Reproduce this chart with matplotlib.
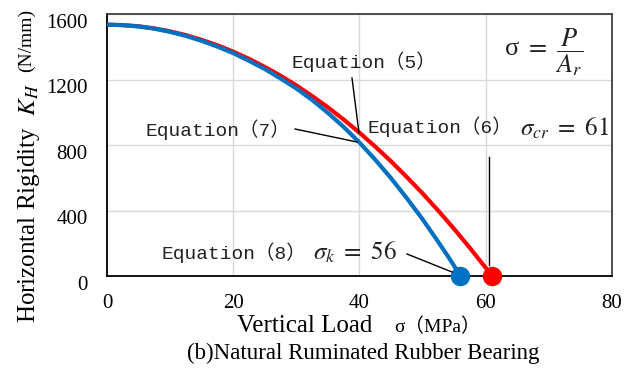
import matplotlib
matplotlib.use("Agg")
import matplotlib.pyplot as plt
from matplotlib.transforms import ScaledTranslation

# ---- data ----
sigma_eq7 = [0, 2.5, 5, 7.5, 10, 12.5, 15, 17.5, 20, 22.5, 25, 27.5, 30, 32.5, 35, 37.5,
             40, 42.5, 45, 47.5, 50, 52.5, 54, 55, 56]
kh_eq7 = [1535, 1532, 1524, 1510, 1491, 1466, 1436, 1401, 1361, 1314, 1264, 1206, 1145,
          1075, 996, 910, 815, 710, 597, 475, 346, 207, 121, 61, 0]
sigma_eq5 = [0, 2.5, 5, 7.5, 10, 12.5, 15, 17.5, 20, 22.5, 25, 27.5, 30, 32.5, 35, 37.5,
             40, 42.5, 45, 47.5, 50, 52.5, 55, 57.5, 59, 60, 61]
kh_eq5 = [1535, 1532, 1525, 1512, 1494, 1471, 1442, 1409, 1370, 1326, 1277, 1223, 1164,
          1099, 1030, 955, 875, 790, 700, 604, 504, 398, 287, 171, 98, 50, 0]
sigma_k = 56
sigma_cr = 61
x_ticks = [0, 20, 40, 60, 80]
y_ticks = [0, 400, 800, 1200, 1600]

plt.rcParams['mathtext.fontset'] = 'stix'
SERIF = ['Liberation Serif', 'Noto Sans CJK JP', 'DejaVu Serif']
MONO = ['Liberation Mono', 'Noto Sans CJK JP', 'DejaVu Sans']

W, H = 638, 368
fig = plt.figure(figsize=(W / 100, H / 100), dpi=100)
L, R, T, B = 107, 612, 14, 276
ax = fig.add_axes([L / W, 1 - B / H, (R - L) / W, (B - T) / H])

ax.plot(sigma_eq5, kh_eq5, color='#FF0000', lw=3.0, solid_capstyle='round', zorder=3)
ax.plot(sigma_eq7, kh_eq7, color='#0070C0', lw=3.0, solid_capstyle='round', zorder=4)
ax.plot([sigma_cr], [0], 'o', color='#FF0000', ms=13, zorder=5, clip_on=False)
ax.plot([sigma_k], [0], 'o', color='#0070C0', ms=13, zorder=6, clip_on=False)

ax.set_xlim(0, 80)
ax.set_ylim(0, 1600)
ax.set_xticks(x_ticks)
ax.set_yticks(y_ticks)
ax.grid(True, color='#D9D9D9', lw=1.0)
ax.set_axisbelow(True)
ax.tick_params(length=0, labelsize=15)
ax.tick_params(axis='x', pad=13)
ax.tick_params(axis='y', pad=14)
for lab in ax.get_xticklabels() + ax.get_yticklabels():
    lab.set_family(SERIF)
for lab in ax.get_yticklabels():
    lab.set_transform(lab.get_transform() + ScaledTranslation(0, -5 / 72, fig.dpi_scale_trans))
for s in ['left', 'bottom']:
    ax.spines[s].set_color('black')
    ax.spines[s].set_linewidth(1.3)
for s in ['top', 'right']:
    ax.spines[s].set_color('#404040')
    ax.spines[s].set_linewidth(1.3)


def P(px, py):
    return ((px - L) / (R - L), (B - py) / (B - T))


def txt(px, py, s, size=14, ha='left', va='center', fam=MONO):
    x, y = P(px, py)
    ax.text(x, y, s, transform=ax.transAxes, ha=ha, va=va, fontsize=size,
            family=fam, color='#222222', zorder=7)


def line(p0, p1):
    x0, y0 = P(*p0)
    x1, y1 = P(*p1)
    ax.plot([x0, x1], [y0, y1], transform=ax.transAxes, color='black', lw=1.0, zorder=7)


txt(292, 62, 'Equation\uff085\uff09')
line((352, 78), (359, 133))
txt(290, 130, 'Equation\uff087\uff09', ha='right')
line((295, 129), (357, 142))
txt(368, 127, 'Equation\uff086\uff09')
txt(520, 128, r'$\sigma_{cr}\ =\ 61$', size=18, fam=SERIF)
line((489, 157), (489, 265))
txt(162, 253, 'Equation\uff088\uff09')
txt(313, 252, r'$\sigma_{k}\ =\ 56$', size=18, fam=SERIF)
line((407, 254), (452, 272))
txt(504, 52, r'σ $=\ \dfrac{P}{A_r}$', size=19, fam=SERIF)

# axis labels
fig.text(29 / W, 1 - 323 / H, r'Horizontal Rigidity  $K_H$', rotation=90, ha='center', va='bottom',
         fontsize=18, family=SERIF)
fig.text(26 / W, 1 - 9 / H, '(N/mm)', rotation=90, ha='center', va='top',
         fontsize=14, family=SERIF)
fig.text(237 / W, 1 - 332 / H, 'Vertical Load', ha='left', va='baseline', fontsize=18, family=SERIF)
fig.text(394 / W, 1 - 332 / H, 'σ\uff08MPa\uff09', ha='left', va='baseline', fontsize=14, family=SERIF)
fig.text(363 / W, 1 - 353 / H, '(b)Natural Ruminated Rubber Bearing', ha='center', va='center',
         fontsize=16.5, family=SERIF)

fig.savefig('out.png', dpi=100)
